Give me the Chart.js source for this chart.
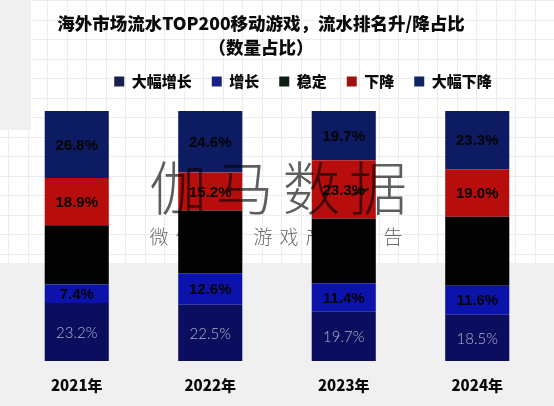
<!DOCTYPE html>
<html>
<head>
<meta charset="utf-8">
<script src="https://cdn.jsdelivr.net/npm/chart.js@4"></script>
<style>
html,body{margin:0;padding:0;background:#fff;}
#wrap{width:554px;height:406px;position:relative;}
</style>
</head>
<body>
<div id="wrap"><canvas id="c" width="554" height="406"></canvas></div>
<script>
const categories = ['2021年', '2022年', '2023年', '2024年'];
const seriesNames = ['大幅增长', '增长', '稳定', '下降', '大幅下降'];
const bigUp = [23.2, 22.5, 19.7, 18.5];
const up = [7.4, 12.6, 11.4, 11.6];
const stable = [23.7, 25.1, 25.9, 27.6];
const down = [18.9, 15.2, 23.3, 19.0];
const bigDown = [26.8, 24.6, 19.7, 23.3];
const titleLines = ['海外市场流水TOP200移动游戏，流水排名升/降占比', '（数量占比）'];
const watermarkMain = '伽马数据';
const watermarkSub = '微信号：游戏产业报告';

const barColors = ['#0b0e5e', '#0b13ab', '#020202', '#b70d0d', '#0d1b63'];
const legendColors = ['#18204f', '#182082', '#0e1d12', '#a01212', '#0f2560'];
const CJK = '"Noto Sans CJK SC", "Noto Sans", sans-serif';

const bgPlugin = {
  id: 'bg',
  beforeDraw(chart) {
    const ctx = chart.ctx, W = chart.width, H = chart.height;
    ctx.save();
    ctx.fillStyle = '#ffffff';
    ctx.fillRect(0, 0, W, H);
    ctx.strokeStyle = '#ececec';
    ctx.lineWidth = 1;
    const step = 19.5;
    for (let x = 8; x < W; x += step) {
      ctx.beginPath(); ctx.moveTo(Math.round(x) + 0.5, 0); ctx.lineTo(Math.round(x) + 0.5, 263); ctx.stroke();
    }
    for (let y = 0; y < 263; y += step) {
      ctx.beginPath(); ctx.moveTo(0, Math.round(y) + 0.5); ctx.lineTo(W, Math.round(y) + 0.5); ctx.stroke();
    }
    ctx.fillStyle = '#f0f0f0';
    ctx.fillRect(0, 0, 31, 130);
    ctx.fillRect(0, 263, W, H - 263);
    ctx.restore();
  }
};

const labelPlugin = {
  id: 'segLabels',
  afterDatasetsDraw(chart) {
    const ctx = chart.ctx;
    ctx.save();
    ctx.textAlign = 'center';
    ctx.textBaseline = 'middle';
    chart.data.datasets.forEach((ds, di) => {
      if (di === 2) return;
      const meta = chart.getDatasetMeta(di);
      meta.data.forEach((el, i) => {
        const v = ds.data[i];
        const p = el.getProps(['x', 'y', 'base'], true);
        const cy = (p.y + p.base) / 2;
        if (di === 0) {
          ctx.font = '300 15px Lato, "Noto Sans", sans-serif';
          ctx.fillStyle = 'rgba(205,205,220,0.85)';
        } else {
          ctx.font = 'bold 15px "Liberation Sans", Arial, sans-serif';
          ctx.fillStyle = '#050505';
        }
        ctx.fillText(v.toFixed(1) + '%', p.x, cy + 1);
      });
    });
    ctx.restore();
  }
};

const watermarkPlugin = {
  id: 'watermark',
  afterDraw(chart) {
    const ctx = chart.ctx;
    ctx.save();
    ctx.globalCompositeOperation = 'multiply';
    ctx.textAlign = 'center';
    ctx.textBaseline = 'middle';
    ctx.fillStyle = '#5e5e5e';
    ctx.font = '300 58px ' + CJK;
    [...watermarkMain].forEach((ch, i) => ctx.fillText(ch, 178 + i * 66.7, 188));
    ctx.fillStyle = '#6a6a6a';
    ctx.font = '300 19px ' + CJK;
    [...watermarkSub].forEach((ch, i) => ctx.fillText(ch, 159 + i * 26, 237));
    ctx.restore();
  }
};

const legendSpacer = {
  id: 'legendSpacer',
  beforeInit(chart) {
    const origFit = chart.legend.fit;
    chart.legend.fit = function () {
      origFit.bind(chart.legend)();
      this.height += 6;
    };
  },
  afterLayout(chart) {
    const lg = chart.legend;
    lg.left += 26; lg.right += 26; lg.top -= 6; lg.bottom -= 6;
    const tb = chart.titleBlock;
    tb.left -= 16; tb.right -= 16;
  }
};

const datasets = [bigUp, up, stable, down, bigDown].map((d, i) => ({
  label: seriesNames[i],
  data: d,
  backgroundColor: barColors[i],
  borderWidth: 0,
  stack: 's'
}));

new Chart(document.getElementById('c'), {
  type: 'bar',
  data: { labels: categories, datasets },
  options: {
    responsive: false,
    animation: false,
    devicePixelRatio: 1,
    layout: { padding: { left: 10, right: 10, top: 0, bottom: 5 } },
    datasets: { bar: { categoryPercentage: 1.0, barPercentage: 0.48 } },
    scales: {
      x: {
        stacked: true,
        grid: { display: false },
        border: { display: false },
        ticks: { color: '#0a0a0a', font: { family: CJK, size: 15, weight: '900' }, padding: 7 }
      },
      y: {
        stacked: true,
        display: false,
        min: 0,
        max: 100
      }
    },
    plugins: {
      title: {
        display: true,
        text: titleLines,
        color: '#0a0a0a',
        font: { family: CJK, size: 17.5, weight: '900', lineHeight: 1.4 },
        padding: { top: 11, bottom: 0 }
      },
      legend: {
        display: true,
        position: 'top',
        labels: {
          boxWidth: 10,
          boxHeight: 10,
          padding: 20,
          color: '#0a0a0a',
          font: { family: CJK, size: 15, weight: '900' },
          generateLabels(chart) {
            return chart.data.datasets.map((ds, i) => ({
              text: ds.label,
              fillStyle: legendColors[i],
              strokeStyle: legendColors[i],
              lineWidth: 0,
              hidden: false,
              datasetIndex: i,
              fontColor: '#0a0a0a'
            }));
          }
        }
      },
      tooltip: { enabled: false }
    }
  },
  plugins: [bgPlugin, labelPlugin, watermarkPlugin, legendSpacer]
});
</script>
</body>
</html>
